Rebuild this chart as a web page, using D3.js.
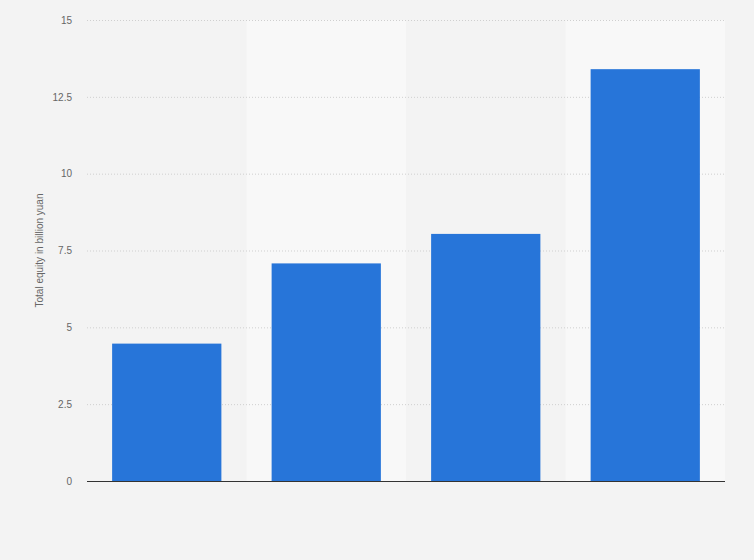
<!DOCTYPE html>
<html>
<head>
<meta charset="utf-8">
<script src="https://cdn.jsdelivr.net/npm/d3@7"></script>
<style>
  body { margin: 0; background: #f3f3f3; }
  svg { display: block; font-family: "Liberation Sans", Arial, sans-serif; }
</style>
</head>
<body>
<svg id="chart" width="754" height="560"></svg>
<script>
// four unlabeled periods
const CATEGORIES = ["A", "B", "C", "D"];
const EQUITY = [4.47, 7.08, 8.04, 13.4];
const Y_TICKS = [0, 2.5, 5, 7.5, 10, 12.5, 15];
const Y_LABEL = "Total equity in billion yuan";

const svg = d3.select("#chart");
const margin = { top: 20, right: 29, bottom: 79, left: 87 };
const width = 754 - margin.left - margin.right;
const height = 560 - margin.top - margin.bottom;

svg.append("rect").attr("width", 754).attr("height", 560).attr("fill", "#f3f3f3");

const g = svg.append("g").attr("transform", `translate(${margin.left},${margin.top})`);

const x = d3.scaleBand().domain(CATEGORIES).range([0, width]).paddingInner(0).paddingOuter(0);
const y = d3.scaleLinear().domain([0, 15]).range([height, 0]);

// alternating column backgrounds
g.selectAll(".band")
  .data(CATEGORIES)
  .join("rect")
  .attr("class", "band")
  .attr("x", (d) => x(d))
  .attr("y", 0)
  .attr("width", x.bandwidth())
  .attr("height", height)
  .attr("fill", (d, i) => (i % 2 ? "#f8f8f8" : "#f3f3f3"));

// gridlines
g.selectAll(".grid")
  .data(Y_TICKS.filter((t) => t > 0))
  .join("line")
  .attr("class", "grid")
  .attr("x1", 0)
  .attr("x2", width)
  .attr("y1", (d) => y(d) + 0.5)
  .attr("y2", (d) => y(d) + 0.5)
  .attr("stroke", "#cfcfcf")
  .attr("stroke-width", 1)
  .attr("stroke-dasharray", "1,2");

// bars
const barW = x.bandwidth() * 0.685;
g.selectAll(".bar")
  .data(CATEGORIES)
  .join("rect")
  .attr("class", "bar")
  .attr("x", (d) => x(d) + (x.bandwidth() - barW) / 2)
  .attr("y", (d, i) => y(EQUITY[i]))
  .attr("width", barW)
  .attr("height", (d, i) => height - y(EQUITY[i]))
  .attr("fill", "#2775d9");

// y axis labels
const yAxis = d3.axisLeft(y).tickValues(Y_TICKS).tickSize(0).tickPadding(15)
  .tickFormat((d) => String(d));
const ya = g.append("g").call(yAxis);
ya.select(".domain").remove();
ya.selectAll("text").attr("fill", "#666").style("font-size", "10px");

// baseline
g.append("line")
  .attr("x1", 0)
  .attr("x2", width)
  .attr("y1", height + 0.5)
  .attr("y2", height + 0.5)
  .attr("stroke", "#333")
  .attr("stroke-width", 1);

svg.append("text")
  .attr("transform", `translate(43,${margin.top + height / 2}) rotate(-90)`)
  .attr("text-anchor", "middle")
  .attr("fill", "#666")
  .style("font-size", "10px")
  .text(Y_LABEL);
</script>
</body>
</html>
